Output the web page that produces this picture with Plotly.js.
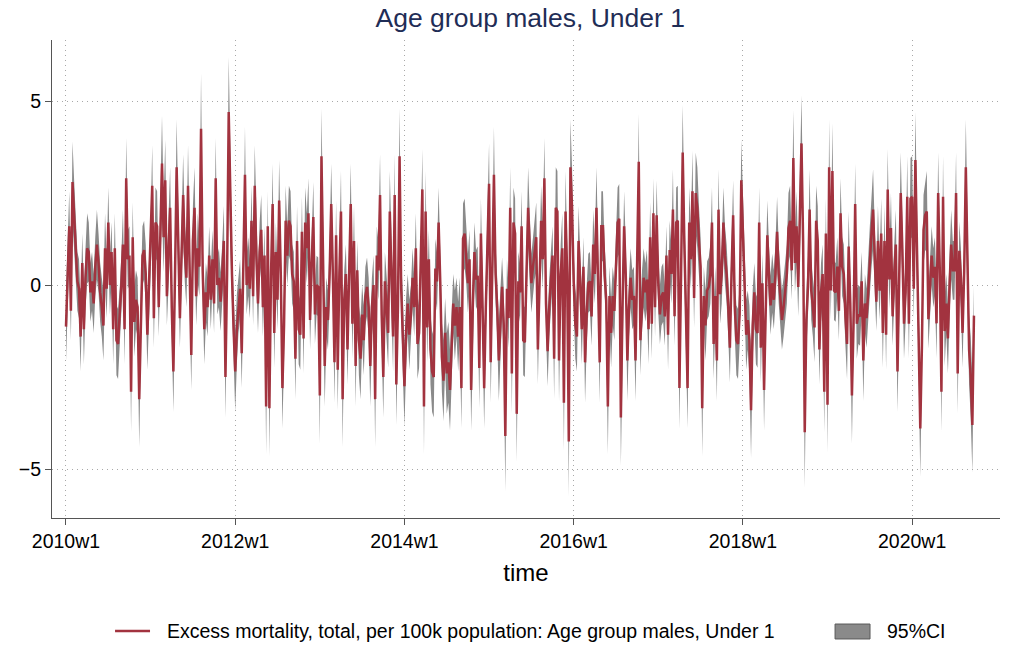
<!DOCTYPE html>
<html>
<head>
<meta charset="utf-8">
<script src="https://cdn.plot.ly/plotly-3.0.1.min.js"></script>
<style>html,body{margin:0;padding:0;background:#fff;}#chart{width:1010px;height:646px;}</style>
</head>
<body>
<div id="chart"></div>
<script>
// Stata weekly date of first observation (2010w1 = 2600)
const startWeek = 2600;

// Excess mortality per 100k, weekly from 2010w1
const excess = [
-1.13,0.4,1.6,-0.7,2.8,1.9,1.0,0.1,-0.1,-1.4,
0.6,-1.2,0.2,1.0,0.9,-0.2,0.1,-0.5,0.5,1.1,
0.6,-0.2,-0.6,-1.1,1.0,-0.1,1.7,0.0,0.9,-1.2,
1.0,-1.5,-1.6,-0.9,0.0,1.1,-1.2,2.9,0.7,0.8,
-2.9,1.3,
-1.0,-0.4,-0.6,-3.1,-0.9,0.8,0.95,0.3,-1.35,0.0,
0.9,2.7,-0.9,1.7,1.6,-0.6,1.4,3.3,1.3,2.85,
-0.3,1.2,2.1,-0.6,-2.35,0.3,3.2,1.2,-0.9,0.8,
2.45,0.9,0.2,2.7,0.3,-1.9,1.2,2.1,-0.3,1.0,
0.5,4.25,0.4,-1.2,-0.2,-0.6,0.8,
-0.4,0.7,-0.5,2.9,0.0,0.2,-0.45,0.3,1.2,-2.5,
0.3,4.7,2.1,0.3,-1.2,-2.35,-1.2,-0.5,-0.1,-1.85,
0.3,3.0,0.0,0.5,-0.1,1.75,-0.3,2.7,0.8,-0.5,
0.9,1.5,-0.6,0.8,-3.3,1.6,-3.35,0.3,2.2,-1.3,
0.9,-0.4,2.3,0.3,-2.8,-1.1,1.75,0.8,
1.75,1.6,0.3,0.1,-2.0,1.2,-1.2,-1.35,1.45,-1.45,
1.7,1.0,1.95,-0.95,0.6,1.85,-0.8,0.0,-0.05,-3.0,
3.5,0.3,-2.2,-0.6,-0.95,0.3,2.2,0.3,-2.1,1.35,
-2.3,0.3,2.0,-3.1,-0.4,0.3,-1.75,0.3,2.2,-1.05,
1.2,-2.2,0.4,-1.5,-2.0,-0.8,-1.5,-0.3,-0.05,
-0.6,-2.2,-0.6,0.0,-3.1,0.8,0.4,2.45,-0.8,-2.5,
0.1,-0.6,-1.3,2.0,0.3,-1.4,2.45,-2.7,-0.6,3.5,
-0.1,-1.2,-2.75,-1.3,-0.5,-1.35,-0.8,0.2,-0.6,1.0,
-1.6,-1.3,0.3,2.6,-3.3,2.0,-1.15,0.7,-1.75,-2.35,
-2.5,0.45,0.1,1.7,0.1,-1.95,-2.6,-1.3,
-2.4,-2.1,-2.85,-1.4,-0.5,-1.1,-0.6,-1.4,-0.6,-2.8,
1.27,1.4,0.85,0.05,0.7,-2.85,-0.6,0.9,0.15,0.25,
-2.25,1.4,-0.6,-2.8,-0.6,1.2,2.75,-2.1,0.3,3.0,
0.3,-0.6,-2.05,-0.9,-0.05,-1.05,-4.1,-0.1,-0.9,2.1,
-2.4,1.7,1.4,-3.5,0.1,-0.2,1.6,-1.5,
-1.55,0.3,2.1,1.0,0.05,0.5,0.95,1.3,-1.75,0.3,
1.75,0.7,2.9,-0.5,-1.8,-0.6,0.3,0.8,-2.0,2.1,
2.0,-2.05,0.3,1.0,-3.2,2.0,0.3,-4.25,3.2,2.1,
0.1,-1.05,-1.4,1.2,0.1,-1.2,0.5,-2.1,-0.8,0.05,
0.1,-0.85,1.1,0.3,2.1,0.2,-2.1,1.6,
1.6,0.3,-0.4,-3.3,-0.3,-1.3,-0.3,-0.7,0.8,1.7,
1.8,-3.6,-0.6,1.6,0.3,-2.05,-0.6,0.2,-0.4,-0.3,
-2.05,0.3,3.35,-1.5,-0.4,0.2,-0.2,0.15,-1.2,1.3,
-1.05,1.95,-0.6,1.9,0.05,-0.8,-0.3,-0.2,-0.85,0.8,
-1.35,0.95,0.3,2.05,-0.85,1.7,1.75,-2.8,
0.3,3.6,1.2,-1.2,-2.8,1.7,0.7,2.55,-0.35,2.5,
2.1,1.2,0.5,-3.35,-0.3,-1.1,-0.15,-0.05,0.3,1.7,
-1.6,-0.3,-2.05,2.05,-0.25,0.3,1.7,0.8,0.3,-0.6,
-1.7,0.3,1.9,-0.6,-1.5,-1.6,-0.8,2.85,1.6,0.3,
-1.35,-0.95,-1.5,-3.4,-1.1,-0.2,-1.2,
-1.3,1.7,-1.7,0.05,-2.85,-0.6,1.35,0.3,-0.55,0.05,
-0.4,0.3,1.45,0.3,-0.4,-0.95,-0.6,-0.05,0.3,1.55,
1.75,0.4,3.45,0.6,1.6,-0.05,2.1,3.85,1.2,-4.0,
-0.95,-0.05,2.05,-0.15,-0.6,-1.15,1.75,1.2,-1.75,-0.2,
0.3,-2.9,1.4,-3.25,3.2,-0.15,3.1,-0.15,
-0.2,0.5,-0.7,1.95,0.5,0.3,-0.85,-1.6,1.05,-0.5,
-3.0,-1.05,2.2,-1.05,-0.8,-0.85,0.1,-2.05,-0.5,-0.9,
-0.2,0.8,1.4,2.05,0.8,-0.45,1.2,-0.15,1.4,-1.3,
1.2,-1.35,2.6,0.15,1.55,-0.85,0.3,1.1,-2.35,0.3,
2.5,0.95,-1.05,-0.2,2.4,-1.05,2.35,
2.4,-0.1,3.4,0.8,-1.45,-3.9,-1.7,1.5,1.9,2.0,
-0.93,-0.2,0.8,0.2,0.5,-1.04,2.5,0.4,-2.9,2.4,
-1.25,-0.5,-1.45,0.0,1.1,0.4,0.4,2.5,-2.4,0.93,
0.2,-1.3,0.4,3.2,0.4,-1.75,-2.5,-3.8,-0.83
];

// Half-width of the 95% confidence band (read from the grey area)
const ciHalf = [
.95,.8,.95,.8,1.1,.95,.95,.8,.8,.95,
.8,.95,.8,.95,.8,.8,.8,.8,.8,.95,
.8,.8,.8,.95,.95,.8,.95,.8,.8,.95,
.95,.95,.95,.8,.8,.95,.95,1.1,.8,.8,
1.1,.95,
.95,.8,.8,1.3,.8,.8,.8,.8,.95,.8,
.8,1.1,.8,.95,.95,.8,.95,1.3,.95,1.1,
.8,.95,1.1,.8,1.1,.8,1.3,.95,.8,.8,
1.1,.8,.8,1.1,.8,.95,.95,1.1,.8,.95,
.8,1.5,.8,.95,.8,.8,.8,
.8,.8,.8,1.1,.8,.8,.8,.8,.95,1.1,
.8,1.5,1.1,.8,.95,1.1,.95,.8,.8,.95,
.8,1.3,.8,.8,.8,.95,.8,1.1,.8,.8,
.8,.95,.8,.8,1.3,.95,1.3,.8,1.1,.95,
.8,.8,1.1,.8,1.1,.95,.95,.8,
.95,.95,.8,.8,1.1,.95,.95,.95,.95,.95,
.95,.95,.95,.8,.8,.95,.8,.8,.8,1.3,
1.3,.8,1.1,.8,.8,.8,1.1,.8,1.1,.95,
1.1,.8,1.1,1.3,.8,.8,.95,.8,1.1,.95,
.95,1.1,.8,.95,1.1,.8,.95,.8,.8,
.8,1.1,.8,.8,1.3,.8,.8,1.1,.8,1.1,
.8,.8,.95,1.1,.8,.95,1.1,1.1,.8,1.3,
.8,.95,1.1,.95,.8,.95,.8,.8,.8,.95,
.95,.95,.8,1.1,1.3,1.1,.95,.8,.95,1.1,
1.1,.8,.8,.95,.8,.95,1.1,.95,
1.1,1.1,1.1,.95,.8,.95,.8,.95,.8,1.1,
.95,.95,.8,.8,.8,1.1,.8,.8,.8,.8,
1.1,.95,.8,1.1,.8,.95,1.1,1.1,.8,1.3,
.8,.8,1.1,.8,.8,.95,1.5,.8,.8,1.1,
1.1,.95,.95,1.3,.8,.8,.95,.95,
.95,.8,1.1,.95,.8,.8,.8,.95,.95,.8,
.95,.8,1.1,.8,.95,.8,.8,.8,1.1,1.1,
1.1,1.1,.8,.95,1.3,1.1,.8,1.5,1.3,1.1,
.8,.95,.95,.95,.8,.95,.8,1.1,.8,.8,
.8,.8,.95,.8,1.1,.8,1.1,.95,
.95,.8,.8,1.3,.8,.95,.8,.8,.8,.95,
.95,1.3,.8,.95,.8,1.1,.8,.8,.8,.8,
1.1,.8,1.3,.95,.8,.8,.8,.8,.95,.95,
.95,.95,.8,.95,.8,.8,.8,.8,.8,.8,
.95,.8,.8,1.1,.8,.95,.95,1.1,
.8,1.3,.95,.95,1.1,.95,.8,1.1,.8,1.1,
1.1,.95,.8,1.3,.8,.95,.8,.8,.8,.95,
.95,.8,1.1,1.1,.8,.8,.95,.8,.8,.8,
.95,.8,.95,.8,.95,.95,.8,1.1,.95,.8,
.95,.8,.95,1.3,.95,.8,.95,
.95,.95,.95,.8,1.1,.8,.95,.8,.8,.8,
.8,.8,.95,.8,.8,.8,.8,.8,.8,.95,
.95,.8,1.3,.8,.95,.8,1.1,1.3,.95,1.5,
.8,.8,1.1,.8,.8,.95,.95,.95,.95,.8,
.8,1.1,.95,1.3,1.3,.8,1.3,.8,
.8,.8,.8,.95,.8,.8,.8,.95,.95,.8,
1.3,.95,1.1,.95,.8,.8,.8,1.1,.8,.8,
.8,.8,.95,1.1,.8,.8,.95,.8,.95,.95,
.95,.95,1.1,.8,.95,.8,.8,.95,1.1,.8,
1.1,.8,.95,.8,1.1,.95,1.1,
1.1,.8,1.3,.8,.95,1.3,.95,.95,.95,1.1,
.8,.8,.8,.8,.8,.95,1.1,.8,1.1,1.1,
.95,.8,.95,.8,.95,.8,.8,1.1,1.1,.8,
.8,.95,.8,1.3,.8,.95,1.1,1.3,.8
];

const xTickVals = [2600, 2704, 2808, 2912, 3016, 3120];
const xTickText = ['2010w1', '2012w1', '2014w1', '2016w1', '2018w1', '2020w1'];
const yTickVals = [-5, 0, 5];

const seriesName = 'Excess mortality, total, per 100k population: Age group males, Under 1';
const ciName = '95%CI';
const chartTitle = 'Age group males, Under 1';

const weeks = excess.map((_, i) => startWeek + i);
const lower = excess.map((v, i) => v - ciHalf[i]);
const upper = excess.map((v, i) => v + ciHalf[i]);

const FONT = '"Liberation Sans", Arial, Helvetica, sans-serif';
const RED = '#a2333f';
const GREY = '#8a8a8a';

const traces = [
  {x: weeks, y: lower, type: 'scatter', mode: 'lines', line: {width: 0, color: 'rgba(0,0,0,0)'},
   showlegend: false, hoverinfo: 'skip'},
  {x: weeks, y: upper, type: 'scatter', mode: 'lines', line: {width: 0, color: 'rgba(0,0,0,0)'},
   fill: 'tonexty', fillcolor: GREY, name: ciName, showlegend: false},
  {x: weeks, y: excess, type: 'scatter', mode: 'lines', line: {width: 2.5, color: RED},
   name: seriesName, showlegend: false}
];

// legend drawn in paper coordinates below the plot
const legY = -0.2364;
const shapes = [
  {type: 'line', xref: 'paper', yref: 'paper', x0: 0.0665, x1: 0.1034, y0: legY, y1: legY,
   line: {color: RED, width: 2.5}},
  {type: 'rect', xref: 'paper', yref: 'paper', x0: 0.826, x1: 0.8629, y0: -0.2218, y1: -0.2531,
   fillcolor: GREY, line: {color: '#5a5a5a', width: 1}}
];
const annotations = [
  {xref: 'paper', yref: 'paper', x: 0.1192, y: legY, xanchor: 'left', yanchor: 'middle',
   text: seriesName, showarrow: false, font: {size: 19.5, color: '#000'}},
  {xref: 'paper', yref: 'paper', x: 0.8787, y: legY, xanchor: 'left', yanchor: 'middle',
   text: ciName, showarrow: false, font: {size: 19.5, color: '#000'}}
];

const gridStyle = {showgrid: true, gridcolor: '#a8a8a8', griddash: '1px,4px', gridwidth: 1};

const layout = {
  width: 1010, height: 646,
  paper_bgcolor: '#ffffff', plot_bgcolor: '#ffffff',
  font: {family: FONT, size: 19.5, color: '#000'},
  margin: {l: 52, r: 10, t: 40, b: 128},
  title: {text: chartTitle, font: {family: FONT, size: 26.5, color: '#1f2d56'},
          x: 0.525, xanchor: 'center', y: 0.972, yanchor: 'middle', yref: 'container'},
  xaxis: Object.assign({range: [2591.4, 3174], tickvals: xTickVals, ticktext: xTickText,
          showline: true, linecolor: '#555', linewidth: 1, ticks: 'outside', ticklen: 6,
          tickcolor: '#555', zeroline: false, tickfont: {size: 19.5, color: '#000'},
          title: {text: 'time', font: {size: 24, color: '#000'}, standoff: 12}}, gridStyle),
  yaxis: Object.assign({range: [-6.33, 6.66], tickvals: yTickVals,
          showline: true, linecolor: '#555', linewidth: 1, ticks: 'outside', ticklen: 6,
          tickcolor: '#555', zeroline: false, tickfont: {size: 19.5, color: '#000'}}, gridStyle),
  showlegend: false,
  shapes: shapes,
  annotations: annotations
};

Plotly.newPlot('chart', traces, layout, {staticPlot: true, displayModeBar: false});
</script>
</body>
</html>
